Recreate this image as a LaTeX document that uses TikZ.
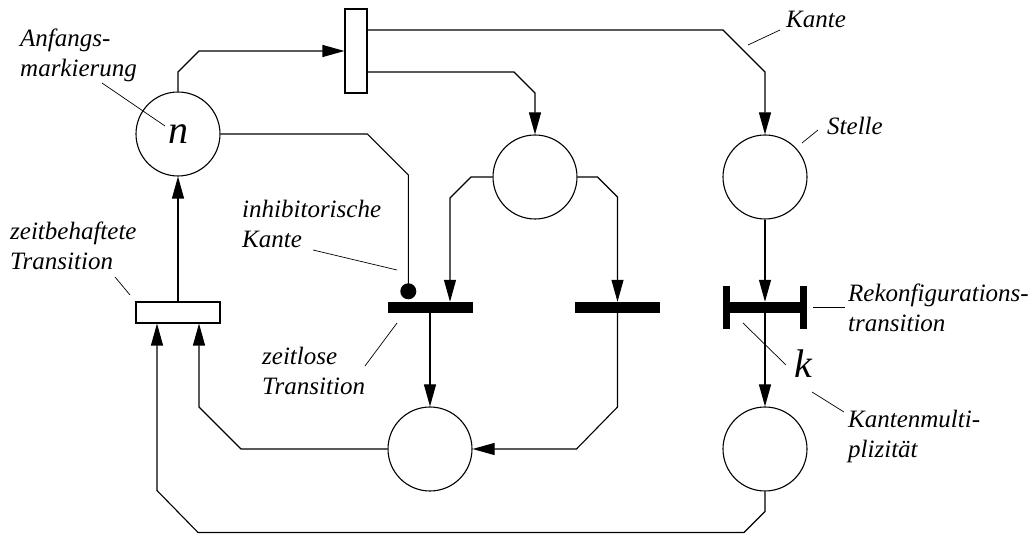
\documentclass[tikz,border=0pt]{standalone}
\usepackage{fontspec}
\setmainfont{Liberation Serif}
\usetikzlibrary{arrows.meta,calc}

\begin{document}
\begin{tikzpicture}[x=1pt,y=-1pt,
  place/.style={circle,draw,line width=1.1pt,minimum size=84pt,inner sep=0pt},
  timed/.style={rectangle,draw,fill=white,line width=1.1pt,inner sep=0pt},
  bar/.style={rectangle,fill=black,minimum width=85pt,minimum height=11pt,inner sep=0pt},
  endcap/.style={rectangle,fill=black,minimum width=7pt,minimum height=43pt,inner sep=0pt},
  flow/.style={line width=1.1pt,-{Triangle[length=22pt,width=12pt]}},
  wire/.style={line width=1.1pt},
  leader/.style={line width=0.7pt},
  lbl/.style={font=\fontsize{25}{30}\selectfont\itshape,align=left,anchor=base west,inner sep=0pt},
  bigit/.style={font=\fontsize{40}{40}\selectfont\itshape}
]
\useasboundingbox (0,0) rectangle (1029,534);

% places
\node[place,bigit] (p0) at (178,134) {n};
\node[place] (p1) at (535,177) {};
\node[place] (p2) at (765,177) {};
\node[place] (p3) at (430,449) {};
\node[place] (p4) at (765,449) {};

% transitions
\node[timed,minimum width=22pt,minimum height=84pt] (t0) at (356,51) {};
\node[timed,minimum width=84pt,minimum height=21pt] (t1) at (178,312.5) {};
\node[bar] (t2) at (430,307.5) {};
\node[bar] (t3) at (617.5,307.5) {};
\node[bar,minimum width=84pt] (t4) at (765,307.5) {};
\node[endcap] (c1) at ($(t4.west)+(3.5,0)$) {};
\node[endcap] (c2) at ($(t4.east)+(-3.5,0)$) {};
\node[circle,fill=black,minimum size=16pt,inner sep=0pt] (dot) at ($(t2.north west)+(21,-10.5)$) {};

% arcs
\draw[flow] (p0.north) -- ($(p0.north |- t0.west)+(0,21)$) -- ($(p0.north |- t0.west)+(21,0)$) -- (t0.west);
\coordinate (o1) at ($(t0.east)+(0,-21)$);
\draw[flow] (o1) -- ($(p2.north |- o1)+(-42,0)$) -- ($(p2.north |- o1)+(0,42)$) -- (p2.north);
\coordinate (o2) at ($(t0.east)+(0,21)$);
\draw[flow] (o2) -- ($(p1.north |- o2)+(-21,0)$) -- ($(p1.north |- o2)+(0,21)$) -- (p1.north);
\draw[wire] (p0.east) -- ($(dot.north |- p0.east)+(-41,0)$) -- ($(dot.north |- p0.east)+(0,41)$) -- (dot.center);
\coordinate (i2) at ($(t2.north)+(20,0)$);
\draw[flow] (p1.west) -- ($(i2 |- p1.west)+(21,0)$) -- ($(i2 |- p1.west)+(0,21)$) -- (i2);
\draw[flow] (p1.east) -- ($(t3.north |- p1.east)+(-20,0)$) -- ($(t3.north |- p1.east)+(0,20)$) -- (t3.north);
\draw[flow] (t2.south) -- (p3.north);
\draw[flow] (t3.south) -- ($(t3.south |- p3.east)+(0,-42)$) -- ($(t3.south |- p3.east)+(-41,0)$) -- (p3.east);
\coordinate (i1b) at ($(t1.south)+(21,0)$);
\draw[flow] (p3.west) -- ($(i1b |- p3.west)+(42,0)$) -- ($(i1b |- p3.west)+(0,-42)$) -- (i1b);
\draw[flow] (t1.north) -- (p0.south);
\draw[flow] (p2.south) -- (t4.north);
\draw[flow] (t4.south) -- (p4.north);
\coordinate (i1a) at ($(t1.south)+(-21,0)$);
\coordinate (bot) at (0,532.5);
\draw[flow] (p4.south) -- ($(p4.south |- bot)+(0,-21)$) -- ($(p4.south |- bot)+(-21,0)$)
  -- ($(i1a |- bot)+(41,0)$) -- ($(i1a |- bot)+(0,-42)$) -- (i1a);

% labels (anchored at the baseline of their last line)
\node[lbl] (l1) at (20,77) {Anfangs-\\markierung};
\node[lbl] (l2) at (786,28) {Kante};
\node[lbl] (l3) at (827,135) {Stelle};
\node[lbl] (l4) at (10,270) {zeitbehaftete\\Transition};
\node[lbl] (l5) at (242,248) {inhibitorische\\Kante};
\node[lbl] (l6) at (262,395) {zeitlose\\Transition};
\node[lbl] (l7) at (848,332) {Rekonfigurations-\\transition};
\node[lbl] (l8) at (848,458) {Kantenmulti-\\plizität};
\node[bigit,anchor=base west,inner sep=0pt] (kk) at (794,378) {k};

% leader lines
\draw[leader] (102,83) -- (165,126);
\draw[leader] (748,45) -- (780,30);
\draw[leader] (802,143) -- (818,130);
\draw[leader] (115,277) -- (130,295);
\draw[leader] (313,250) -- (397,270);
\draw[leader] (397,323) -- (365,366);
\draw[leader] (813,307) -- (845,307);
\draw[leader] (743,323) -- (786,365);
\draw[leader] (812,392) -- (844,412);
\end{tikzpicture}
\end{document}
